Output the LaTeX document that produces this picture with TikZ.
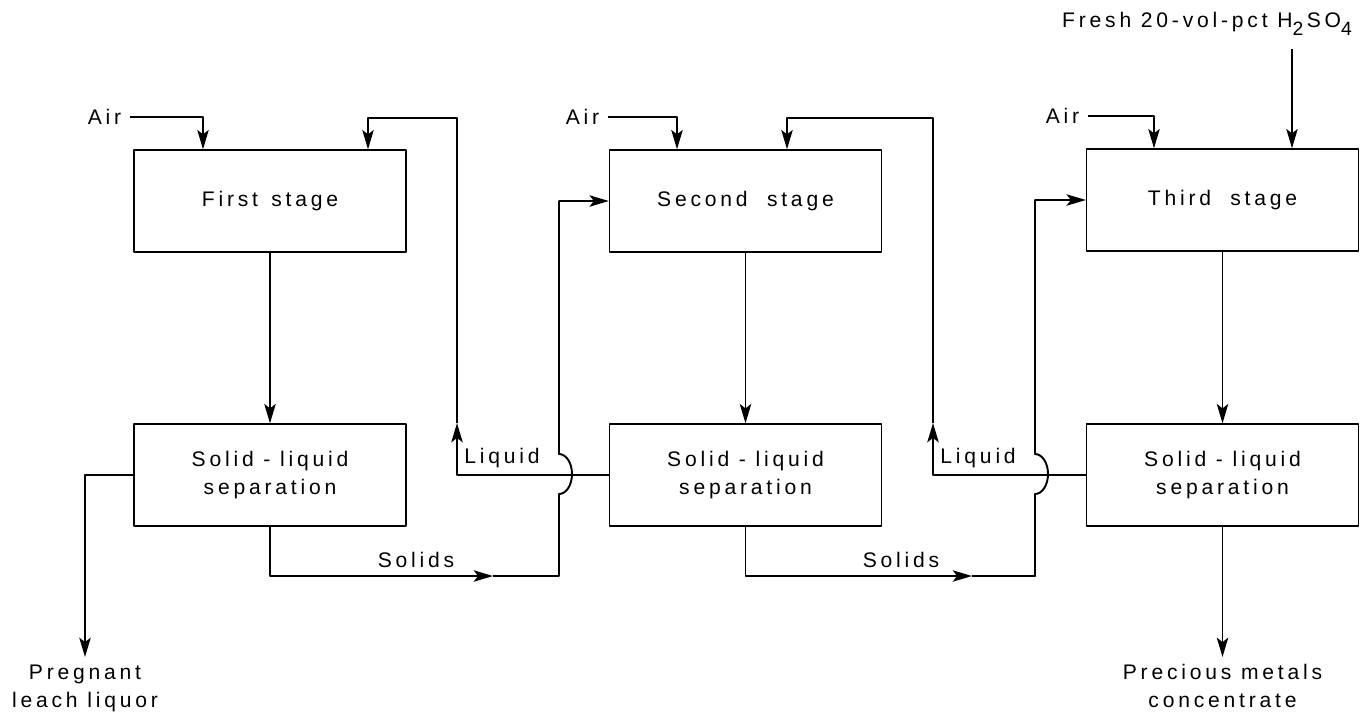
\documentclass[tikz,border=0pt]{standalone}
\usepackage{fontspec}
\setmainfont[LetterSpace=18]{Liberation Sans}
\usetikzlibrary{arrows.meta}
\begin{document}
\begin{tikzpicture}[x=0.02cm,y=-0.02cm,>={Stealth[length=11pt,width=6.5pt,inset=2.5pt]},
  font=\fontsize{12}{16}\selectfont, line join=round, line width=1.1pt,
  stagebox/.style={draw,line width=0.8pt,minimum width=5.44cm,minimum height=2.04cm,align=center,inner sep=0pt},
  lbl/.style={inner sep=2pt,align=center},
  airlbl/.style={inner ysep=2pt,inner xsep=4.5pt,anchor=east}]
\useasboundingbox (0,0) rectangle (1364,711);
% stages and separators
\node[stagebox] (st1) at (270,201) {First\ \,stage};
\node[stagebox] (sp1) at (270,475) {Solid - liquid\\separation};
\node[stagebox] (st2) at (745.5,201) {Second\ \ stage};
\node[stagebox] (sp2) at (745.5,475) {Solid - liquid\\separation};
\node[stagebox] (st3) at (1222.5,200) {Third\ \ stage};
\node[stagebox] (sp3) at (1222.5,475) {Solid - liquid\\separation};
% labels
\node[airlbl] (air1) at (130,117) {Air};
\node[airlbl] (air2) at (608,117) {Air};
\node[airlbl] (air3) at (1088,116) {Air};
\node[lbl] (acid) at (1207,24) {Fresh 20-vol-pct H\raisebox{-0.7ex}{\fontsize{11}{12}\selectfont 2}\,SO\raisebox{-0.7ex}{\fontsize{11}{12}\selectfont 4}};
\node[lbl,anchor=south west] (lql1) at (460,472) {Liquid};
\node[lbl,anchor=south west] (lql2) at (936,472) {Liquid};
\node[lbl] (sol1) at (416,560) {Solids};
\node[lbl] (sol2) at (901,560) {Solids};
\node[lbl,anchor=north] (pgl) at (85,660) {Pregnant\\leach liquor};
\node[lbl,anchor=north] (pml) at (1222.5,660) {Precious metals\\concentrate};
\path
(203,0) coordinate (ka) (677,0) coordinate (kb) (1154,0) coordinate (kc)
(1292,49) coordinate (hs)
(457,423) coordinate (lq1) (933,423) coordinate (lq2)
(457,118) coordinate (tp1) (933,118) coordinate (tp2)
(368,118) coordinate (in1) (787,118) coordinate (in2)
(493,576) coordinate (so1) (972,576) coordinate (so2)
(559,494) coordinate (jp1) (1035,494) coordinate (jp2)
(85,657) coordinate (pg) (1222.5,657) coordinate (pm)
;
% feeds
\foreach \a/\s/\k in {air1/st1/ka,air2/st2/kb,air3/st3/kc}
\draw[->] (\a) -| (\k |- \s.north);
\draw[->] (hs) -- (hs |- st3.north);
\foreach \s/\p in {st1/sp1,st2/sp2,st3/sp3}
\draw[->] (\s) -- (\p);
% liquid back
\draw[->] (sp2.west) -| (lq1);
\draw[->] (lq1) -- (tp1) -- (in1) -- (in1 |- st1.north);
\draw[->] (sp3.west) -| (lq2);
\draw[->] (lq2) -- (tp2) -- (in2) -- (in2 |- st2.north);
% solids forward
\draw[->] (sp1.south) |- (so1);
\draw[->] (so1) -| (jp1) arc[start angle=-90,end angle=90,x radius=0.26cm,y radius=0.4cm] |- (st2.west);
\draw[->] (sp2.south) |- (so2);
\draw[->] (so2) -| (jp2) arc[start angle=-90,end angle=90,x radius=0.26cm,y radius=0.4cm] |- (st3.west);
% products
\draw[->] (sp1.west) -| (pg);
\draw[->] (sp3.south) -- (pm);
\end{tikzpicture}
\end{document}
